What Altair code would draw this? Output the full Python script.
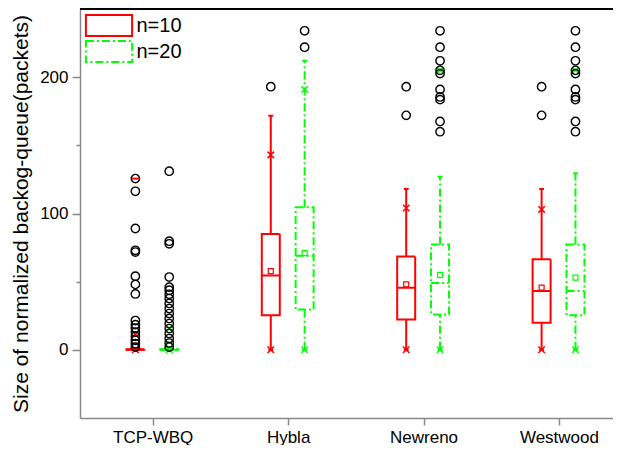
import json
import altair as alt
import pandas as pd

# ---------------- data ----------------
categories = ["TCP-WBQ", "Hybla", "Newreno", "Westwood"]
groups = ["n=10", "n=20"]

# n=10 (red)
n10_q1 = [0, 25.4, 22.2, 19.8]
n10_median = [0, 54.6, 45.6, 43.2]
n10_q3 = [0.5, 85.0, 68.5, 66.4]
n10_whisker_low = [0, 0, 0, 0]
n10_whisker_high = [1, 171.7, 118.0, 118.0]
n10_mean = [3, 57.8, 48.0, 45.6]
n10_p1 = [0, 0, 0, 0]
n10_p99 = [11.5, 143.0, 104.0, 103.0]

# n=20 (green)
n20_q1 = [0, 29.5, 26.0, 25.4]
n20_median = [0, 69.0, 49.0, 43.2]
n20_q3 = [0.5, 104.6, 77.3, 77.3]
n20_whisker_low = [0, 0, 0, 0]
n20_whisker_high = [1, 212.0, 127.0, 129.5]
n20_mean = [4, 71.0, 55.0, 53.0]
n20_p1 = [0, 0, 0, 0]
n20_p99 = [15.6, 191.0, 205.0, 205.0]

# visible max markers ("-")
max_mark_cat = ["TCP-WBQ"]
max_mark_group = ["n=10"]
max_mark_value = [125.6]

# outliers
n10_outliers = {
    "TCP-WBQ": [125.6, 116.3, 89, 73, 71.7, 54, 48, 41, 21.5, 18.5, 16, 13, 10, 7, 4.5, 2],
    "Hybla": [193],
    "Newreno": [193, 172],
    "Westwood": [193, 172],
}
n20_outliers = {
    "TCP-WBQ": [131, 79.7, 77.8, 53.4, 46, 43.7, 40.7, 37.6, 34, 30.3, 26.6, 23, 19.3,
                15.6, 12, 8.3, 5, 2],
    "Hybla": [234, 222],
    "Newreno": [234, 222, 212, 205, 202.6, 191, 185.5, 183.5, 167.5, 160],
    "Westwood": [234, 222, 212, 205, 202.6, 191, 185.5, 183.5, 167.5, 160],
}

# ---------------- tables ----------------
stats_src = {
    "n=10": (n10_q1, n10_median, n10_q3, n10_whisker_low, n10_whisker_high, n10_mean, n10_p1, n10_p99),
    "n=20": (n20_q1, n20_median, n20_q3, n20_whisker_low, n20_whisker_high, n20_mean, n20_p1, n20_p99),
}
rows = []
for g, cols in stats_src.items():
    for i, c in enumerate(categories):
        q1, med, q3, wlo, whi, mean, p1, p99 = (col[i] for col in cols)
        rows.append(dict(idx=i, cat=c, group=g, q1=q1, med=med, q3=q3, wlo=wlo, whi=whi,
                         mean=mean, p1=p1, p99=p99))
stats = pd.DataFrame(rows)

out_rows = []
for g, d in (("n=10", n10_outliers), ("n=20", n20_outliers)):
    for c, vals in d.items():
        for v in vals:
            out_rows.append(dict(idx=categories.index(c), cat=c, group=g, value=v))
outliers = pd.DataFrame(out_rows)

maxmarks = pd.DataFrame(dict(idx=[categories.index(c) for c in max_mark_cat],
                             group=max_mark_group, value=max_mark_value))

# ---------------- style ----------------
W, H = 533, 409
FONT = "Liberation Sans"
RED, GREEN = "#ff0000", "#00ff00"
DASH = [8, 3, 2, 3]
offset_expr = "datum.idx + (datum.group == 'n=10' ? -0.128 : 0.122)"
BOX_HALF = 0.0652
CAP_HALF = 0.018
MAX_HALF = 0.026

xscale = alt.Scale(domain=[-0.5, -0.5 + W / 138.0], nice=False, zero=False)
yscale = alt.Scale(domain=[-50, 250], nice=False, zero=False)
stroke_scale = alt.Scale(domain=groups, range=[RED, GREEN])
dash_scale = alt.Scale(domain=groups, range=[[1, 0], DASH])

label_expr = json.dumps(categories) + "[datum.value]"
x_axis = alt.Axis(values=[0, 1, 2, 3], labelExpr=label_expr, title=None, grid=False,
                  tickSize=7, labelPadding=4, labelFontSize=17, labelFont=FONT,
                  domainWidth=1.5, tickWidth=1.5)
y_axis = alt.Axis(values=[0, 50, 100, 150, 200],
                  labelExpr="datum.value % 100 == 0 ? datum.label : ''",
                  tickSize={"condition": {"test": "datum.value % 100 === 0", "value": 8}, "value": 4},
                  title="Size of normalized backog-queue(packets)", titleFontSize=21,
                  titleFont=FONT, titleFontWeight="normal", titlePadding=8,
                  grid=False, labelPadding=4, labelFontSize=17, labelFont=FONT,
                  domainWidth=1.5, tickWidth=1.5)

def X(field="xpos", axis=alt.Undefined):
    return alt.X(f"{field}:Q", scale=xscale, axis=axis)

def Y(field, axis=alt.Undefined):
    return alt.Y(f"{field}:Q", scale=yscale, axis=axis)

is_red = "datum.group == 'n=10'"
stroke_c = alt.condition(is_red, alt.value(RED), alt.value(GREEN))
dash_c = alt.condition(is_red, alt.value([1, 0]), alt.value(DASH))

base = alt.Chart(stats).transform_calculate(
    xpos=offset_expr,
    xl=f"({offset_expr}) - {BOX_HALF}",
    xr=f"({offset_expr}) + {BOX_HALF}",
    cl=f"({offset_expr}) - {CAP_HALF}",
    cr=f"({offset_expr}) + {CAP_HALF}",
)

whisk_low = base.mark_rule(strokeWidth=2).encode(
    x=X(), y=Y("wlo"), y2="q1:Q", stroke=stroke_c, strokeDash=dash_c)
whisk_high = base.mark_rule(strokeWidth=2).encode(
    x=X(), y=Y("q3"), y2="whi:Q", stroke=stroke_c, strokeDash=dash_c)
cap_low = base.mark_rule(strokeWidth=2).encode(
    x=X("cl"), x2="cr:Q", y=Y("wlo"), stroke=stroke_c)
cap_high = base.mark_rule(strokeWidth=2).encode(
    x=X("cl"), x2="cr:Q", y=Y("whi"), stroke=stroke_c)

legend_path = "M-2.2,-1L2.2,-1L2.2,1L-2.2,1Z"
box = base.mark_bar(width=18, orient="vertical", fill="white", strokeWidth=2).encode(
    x=X("xpos", x_axis), y=Y("q3", y_axis), y2="q1:Q",
    stroke=alt.Stroke("group:N", scale=stroke_scale,
                      legend=alt.Legend(title=None, orient="none", legendX=17.5, legendY=5,
                                        symbolType=legend_path, symbolSize=441,
                                        symbolStrokeWidth=2, symbolFillColor="white",
                                        labelFontSize=20, labelFont=FONT, labelColor="black",
                                        labelOffset=16, rowPadding=-4.5, padding=0)),
    strokeDash=alt.StrokeDash("group:N", scale=dash_scale),
)
median = base.mark_rule(strokeWidth=2).encode(
    x=X("xl"), x2="xr:Q", y=Y("med"), stroke=stroke_c, strokeDash=dash_c)
mean = base.mark_point(shape="square", size=25, filled=False, strokeWidth=1.2, opacity=1).encode(
    x=X(), y=Y("mean"), stroke=stroke_c)
pct = base.transform_fold(["p1", "p99"], as_=["which", "pval"]).mark_point(
    shape="M-1,-1L1,1M-1,1L1,-1", size=42, filled=False, strokeWidth=1.5, opacity=1).encode(
    x=X(), y=Y("pval"), stroke=stroke_c)

out = alt.Chart(outliers).transform_calculate(xpos=offset_expr).mark_point(
    shape="circle", size=70, filled=False, stroke="black", strokeWidth=1.4, opacity=1).encode(
    x=X(), y=Y("value"))

maxm = alt.Chart(maxmarks).transform_calculate(
    ml=f"({offset_expr}) - {MAX_HALF}", mr=f"({offset_expr}) + {MAX_HALF}").mark_rule(
    strokeWidth=2).encode(x=X("ml"), x2="mr:Q", y=Y("value"), stroke=stroke_c)

frame_top = alt.Chart(stats).mark_rule(color="black", strokeWidth=2).encode(
    x=alt.value(0), x2=alt.value(W), y=alt.value(0))

chart = alt.layer(
    box, whisk_low, whisk_high, cap_low, cap_high, median, mean, pct, out, maxm, frame_top
).properties(
    width=W, height=H,
    autosize=alt.AutoSizeParams(type="none"),
    padding={"left": 72, "top": 1, "right": 0, "bottom": 27},
).configure_view(strokeWidth=0, stroke="transparent").configure_axis(
    domainColor="black", tickColor="black", labelColor="black", titleColor="black"
).configure(background="white")

chart.save("out.html", embed_options={"renderer": "svg", "actions": False})
